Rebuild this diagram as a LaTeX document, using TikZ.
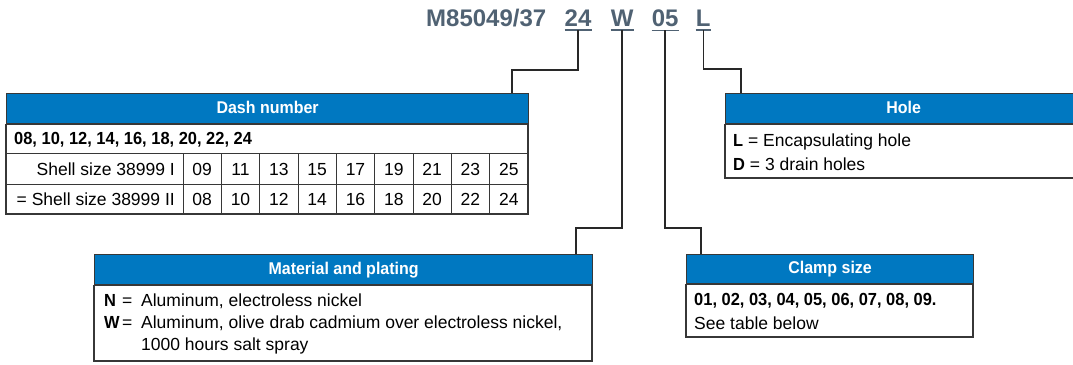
\documentclass[tikz,border=0pt]{standalone}
\usepackage{fontspec}
\setmainfont{Liberation Sans}[BoldFeatures={FakeStretch=0.94}]
\newfontfamily\titlefont{Liberation Sans}
\usetikzlibrary{positioning}
\definecolor{headblue}{RGB}{0,120,193}
\definecolor{titlegray}{RGB}{80,98,115}
\definecolor{boxline}{RGB}{55,55,55}
\definecolor{linkgray}{RGB}{40,40,40}
\tikzset{
    head/.style={draw=boxline, line width=1.2pt, fill=headblue, text=white,
        font=\fontsize{17}{20}\selectfont\bfseries, inner sep=0pt, anchor=north west,
        text height=12.5pt, text depth=3.5pt},
    frame/.style={draw=boxline, line width=1.2pt},
    grid/.style={draw=boxline, line width=0.8pt},
    link/.style={draw=linkgray, line width=1.5pt},
    underline/.style={draw=titlegray, line width=1.6pt},
    part/.style={font=\titlefont\bfseries\fontsize{24}{24}\selectfont, text=titlegray,
        inner xsep=0pt, inner ysep=3pt},
    entry/.style={anchor=base west, inner sep=0pt},
    cell/.style={anchor=base, inner sep=0pt}
}

\begin{document}
\begin{tikzpicture}[x=1pt, y=-1pt, font=\fontsize{17.5}{20}\selectfont]
\useasboundingbox (0,0) rectangle (1073,364);
\clip (0,0) rectangle (1073,364);

% Bestellnummer
\node[part, anchor=base west] (tcode) at (426,27) {M85049/37};
\node[part, base right=18pt of tcode] (t24) {24};
\node[part, base right=19pt of t24] (tW) {W};
\node[part, base right=18pt of tW] (t05) {05};
\node[part, base right=17pt of t05] (tL) {L};
\foreach \p in {t24,tW,t05,tL}
    \draw[underline] (\p.south west) -- (\p.south east);

% Dash number
\node[head, minimum width=522pt, minimum height=30pt] (dashhead) at (6,93) {Dash number};
\draw[frame] (dashhead.south west) rectangle (528,214);
\draw[grid] (6,153) -- (528,153);
\draw[grid] (6,184) -- (528,184);
\foreach \i in {0,...,8}
    \draw[grid] ({183+38.33*\i},153) -- ({183+38.33*\i},214);
\node[entry] (dashlist) at (14,144) {\bfseries 08, 10, 12, 14, 16, 18, 20, 22, 24};
\node[cell, anchor=base east] (shellI) at (175,175) {Shell size 38999 I};
\node[cell, anchor=base east] (shellII) at (175,205) {= Shell size 38999 II};
\foreach \a [count=\i] in {09,11,13,15,17,19,21,23,25}
    \node[cell] (ca\i) at ({183+38.33*(\i-0.5)},175) {\a};
\foreach \a [count=\i] in {08,10,12,14,16,18,20,22,24}
    \node[cell] (cb\i) at ({183+38.33*(\i-0.5)},205) {\a};

% Material and plating
\node[head, minimum width=498pt, minimum height=30pt] (mathead) at (94,254) {Material and plating};
\draw[frame] (mathead.south west) rectangle (592,361);
\node[entry] (matN) at (104,306) {\makebox[18pt][l]{\bfseries N}\makebox[19pt][l]{=}Aluminum, electroless nickel};
\node[entry] (matW) at (104,328) {\makebox[18pt][l]{\bfseries W}\makebox[19pt][l]{=}Aluminum, olive drab cadmium over electroless nickel,};
\node[entry] (matW2) at (141,350) {1000 hours salt spray};

% Clamp size
\node[head, minimum width=287pt, minimum height=29pt] (clamphead) at (686,254) {Clamp size};
\draw[frame] (clamphead.south west) rectangle (973,337);
\node[entry] (clamplist) at (694,305) {\bfseries 01, 02, 03, 04, 05, 06, 07, 08, 09.};
\node[entry] (clampnote) at (694,329) {See table below};

% Hole
\node[head, minimum width=356pt, minimum height=30pt] (holehead) at (725,93) {Hole};
\draw[frame] (holehead.south west) rectangle (1081,178);
\node[entry] (holeL) at (733,146) {\textbf{L} = Encapsulating hole};
\node[entry] (holeD) at (733,170) {\textbf{D} = 3 drain holes};

% Verbindungen
\coordinate (k24) at (512,70);
\coordinate (kW) at (576,228);
\coordinate (k05) at (701,228);
\coordinate (kL) at (741,69);
\draw[link] (t24.south) |- (k24) -- (k24 |- dashhead.north);
\draw[link] (tW.south) |- (kW) -- (kW |- mathead.north);
\draw[link] (t05.south) |- (k05) -- (k05 |- clamphead.north);
\draw[link] (tL.south) |- (kL) -- (kL |- holehead.north);
\end{tikzpicture}
\end{document}
